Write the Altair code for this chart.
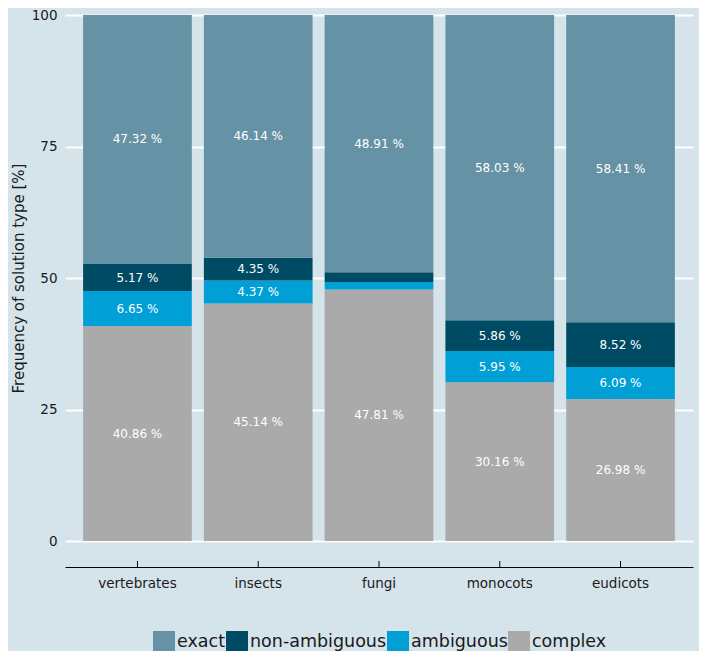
import altair as alt
import pandas as pd

groups = ["vertebrates", "insects", "fungi", "monocots", "eudicots"]
types = ["exact", "non-ambiguous", "ambiguous", "complex"]
exact = [47.32, 46.14, 48.91, 58.03, 58.41]
non_ambiguous = [5.17, 4.35, 1.86, 5.86, 8.52]
ambiguous = [6.65, 4.37, 1.42, 5.95, 6.09]
complex_ = [40.86, 45.14, 47.81, 30.16, 26.98]
colors = ["#6592a5", "#004b64", "#00a0d7", "#aaaaaa"]
stack_rank = {"complex": 0, "ambiguous": 1, "non-ambiguous": 2, "exact": 3}

rows = []
for i, g in enumerate(groups):
    for t, vals in zip(types, [exact, non_ambiguous, ambiguous, complex_]):
        rows.append({"group": g, "type": t, "value": vals[i], "rank": stack_rank[t]})
df = pd.DataFrame(rows)

W, H = 628, 526
FONT = "DejaVu Sans"

xscale = alt.Scale(domain=groups, paddingInner=0.1, paddingOuter=0.15)
yscale = alt.Scale(domain=[0, 100], nice=False, zero=True)

base = alt.Chart(df).transform_stack(
    stack="value", groupby=["group"], as_=["y0", "y1"],
    sort=[alt.SortField("rank", order="ascending")]
).transform_calculate(
    mid="(datum.y0 + datum.y1) / 2",
    label="format(datum.value, '.2f') + ' %'"
)

bars = base.mark_bar().encode(
    x=alt.X("group:N", sort=groups, scale=xscale,
            axis=alt.Axis(title=None, offset=26, domain=True, domainColor="#000000",
                          domainWidth=1, ticks=False, labelPadding=9, labelFontSize=13.5,
                          labelColor="#1a1a1a", labelAngle=0, grid=False, labelFont=FONT)),
    y=alt.Y("y0:Q", scale=yscale,
            axis=alt.Axis(values=[0, 25, 50, 75, 100], title="Frequency of solution type [%]",
                          grid=True, gridColor="#ffffff", gridWidth=2, domain=False,
                          ticks=False, labelFontSize=13.5, labelPadding=8, labelColor="#1a1a1a",
                          titleFontSize=15, titleFontWeight="normal", titleColor="#1a1a1a",
                          titlePadding=5, labelFont=FONT, titleFont=FONT)),
    y2="y1:Q",
    color=alt.Color("type:N", scale=alt.Scale(domain=types, range=colors),
                    legend=alt.Legend(title=None, orient="none", direction="horizontal",
                                      legendX=88, legendY=616, symbolType="square",
                                      symbolSize=484, symbolStrokeWidth=0, symbolOpacity=1,
                                      labelFontSize=17.5, labelFont=FONT, labelColor="#1a1a1a",
                                      labelOffset=2, columnPadding=0, columns=4)),
    order=alt.Order("rank:Q"),
)

text = base.transform_filter("datum.value > 3").mark_text(
    color="white", fontSize=12, font=FONT
).encode(
    x=alt.X("group:N", sort=groups, scale=xscale),
    y=alt.Y("mid:Q", scale=yscale),
    text="label:N",
)

ticks = alt.Chart(pd.DataFrame({"group": groups})).mark_rule(color="#000000", strokeWidth=1).encode(
    x=alt.X("group:N", sort=groups, scale=xscale),
    y=alt.value(H + 20),
    y2=alt.value(H + 26),
)

chart = alt.layer(bars, text, ticks).properties(
    width=W, height=H,
    autosize=alt.AutoSizeParams(type="none"),
    padding={"left": 57, "top": 7, "right": 6, "bottom": 110},
    background="#d5e3ea",
).configure_view(stroke=None).configure(font=FONT)

chart.save("out.html", embed_options={"renderer": "svg", "actions": False})
